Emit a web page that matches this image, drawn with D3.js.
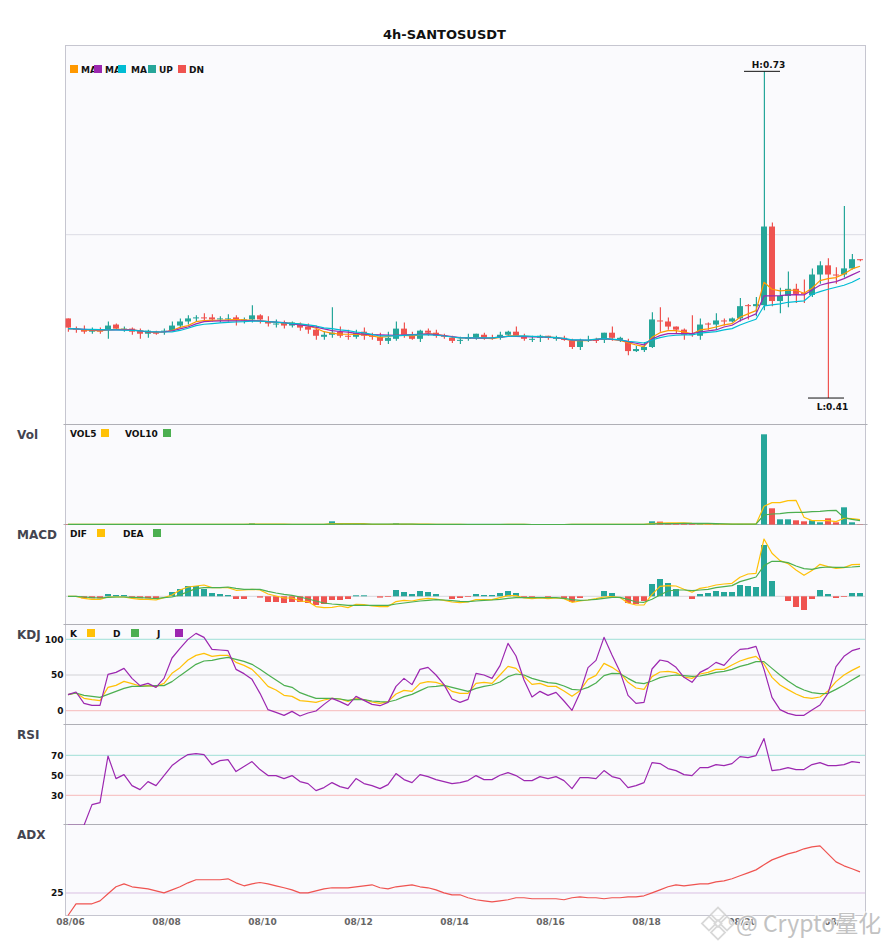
<!DOCTYPE html>
<html>
<head>
<meta charset="utf-8">
<script src="https://cdn.jsdelivr.net/npm/d3@7"></script>
<style>
html,body{margin:0;padding:0;background:#fff;}
svg{display:block;}
text{font-family:"DejaVu Sans",sans-serif;}
</style>
</head>
<body>
<svg id="c" width="885" height="950"></svg>
<script>
const title = "4h-SANTOSUSDT";
const dateTicks = ["08/06","08/08","08/10","08/12","08/14","08/16","08/18","08/20","08/22"];
const upColor = "#26a69a", downColor = "#ef5350";

const opens = [.488,.478,.477,.475,.476,.477,.482,.477,.478,.476,.473,.475,.475,.476,.481,.485,.488,.489,.489,.487,.487,.489,.486,.487,.491,.485,.482,.484,.481,.482,.480,.477,.470,.472,.475,.471,.470,.475,.471,.470,.466,.468,.478,.471,.468,.476,.474,.471,.469,.466,.468,.469,.472,.469,.469,.472,.475,.470,.468,.469,.471,.469,.469,.466,.460,.467,.467,.467,.474,.467,.465,.456,.457,.460,.486,.485,.480,.477,.473,.471,.483,.482,.486,.485,.488,.501,.500,.501,.578,.505,.510,.517,.513,.511,.531,.540,.531,.531,.537,.546];
const closes = [.479,.477,.475,.477,.475,.481,.478,.478,.475,.473,.476,.473,.476,.481,.485,.488,.489,.488,.487,.488,.488,.487,.487,.491,.487,.483,.483,.481,.484,.479,.477,.471,.472,.474,.471,.470,.474,.471,.470,.466,.469,.478,.472,.468,.476,.474,.471,.470,.466,.467,.469,.473,.469,.468,.472,.475,.471,.468,.468,.471,.469,.469,.467,.460,.466,.467,.466,.474,.469,.469,.456,.458,.460,.487,.485,.480,.477,.472,.472,.482,.482,.486,.485,.488,.500,.500,.502,.578,.505,.510,.517,.512,.512,.531,.540,.531,.530,.537,.546,.545];
const highs = [.488,.480,.481,.479,.479,.485,.483,.480,.479,.478,.477,.476,.478,.485,.488,.491,.491,.493,.492,.490,.492,.491,.489,.501,.492,.490,.487,.486,.485,.484,.483,.481,.475,.499,.480,.477,.477,.479,.474,.474,.475,.485,.484,.475,.477,.478,.477,.473,.471,.470,.473,.473,.474,.472,.475,.476,.480,.473,.471,.472,.471,.471,.471,.468,.468,.471,.469,.474,.480,.470,.468,.461,.465,.494,.499,.489,.480,.478,.491,.488,.484,.493,.488,.489,.508,.502,.509,.730,.582,.518,.534,.522,.526,.537,.544,.547,.538,.598,.551,.546];
const lows = [.475,.474,.473,.473,.473,.468,.477,.475,.472,.468,.469,.472,.472,.476,.479,.482,.485,.486,.485,.484,.485,.481,.483,.484,.483,.480,.479,.478,.479,.476,.473,.467,.467,.469,.469,.467,.468,.467,.467,.462,.463,.466,.469,.467,.465,.471,.469,.468,.464,.463,.466,.467,.467,.467,.467,.471,.470,.466,.465,.465,.467,.466,.466,.458,.457,.465,.464,.464,.466,.465,.452,.455,.455,.459,.475,.477,.473,.467,.470,.467,.477,.477,.481,.484,.485,.487,.490,.496,.500,.493,.499,.503,.503,.509,.522,.410,.522,.528,.536,.544];

const ma5 = [.4780,.4777,.4767,.4762,.4757,.4767,.4772,.4772,.4767,.4757,.4747,.4743,.4747,.4762,.4792,.4809,.4848,.4858,.4860,.4862,.4865,.4868,.4865,.4862,.4855,.4848,.4841,.4836,.4831,.4826,.4806,.4784,.4750,.4735,.4725,.4725,.4723,.4721,.4708,.4695,.4703,.4715,.4713,.4708,.4718,.4731,.4723,.4711,.4698,.4689,.4689,.4689,.4686,.4682,.4694,.4708,.4708,.4705,.4703,.4701,.4698,.4692,.4679,.4662,.4662,.4662,.4674,.4682,.4674,.4664,.4643,.4620,.4603,.4695,.4740,.4760,.4760,.4747,.4728,.4767,.4777,.4796,.4816,.4829,.4891,.4924,.4956,.5234,.5166,.5149,.5156,.5156,.5127,.5176,.5250,.5270,.5280,.5316,.5365,.5391];
const ma10 = [.4780,.4777,.4772,.4767,.4767,.4767,.4767,.4767,.4767,.4757,.4747,.4747,.4749,.4757,.4777,.4796,.4827,.4848,.4852,.4855,.4855,.4855,.4857,.4858,.4855,.4848,.4843,.4838,.4826,.4816,.4806,.4794,.4777,.4760,.4752,.4745,.4734,.4725,.4721,.4718,.4716,.4715,.4718,.4721,.4725,.4728,.4721,.4711,.4701,.4692,.4689,.4686,.4687,.4689,.4697,.4705,.4703,.4701,.4700,.4698,.4695,.4692,.4680,.4667,.4667,.4666,.4672,.4682,.4674,.4669,.4652,.4637,.4620,.4679,.4711,.4731,.4731,.4731,.4731,.4747,.4757,.4767,.4796,.4813,.4858,.4891,.4924,.5100,.5100,.5103,.5110,.5113,.5110,.5159,.5205,.5225,.5240,.5270,.5306,.5342];
const ma20 = [.4780,.4777,.4774,.4772,.4770,.4767,.4767,.4764,.4762,.4757,.4752,.4749,.4747,.4749,.4762,.4784,.4809,.4823,.4829,.4836,.4841,.4845,.4848,.4854,.4854,.4848,.4844,.4836,.4831,.4826,.4816,.4806,.4787,.4780,.4767,.4760,.4747,.4738,.4723,.4708,.4708,.4708,.4713,.4718,.4718,.4718,.4715,.4708,.4698,.4689,.4689,.4689,.4689,.4689,.4696,.4705,.4706,.4708,.4705,.4701,.4697,.4692,.4684,.4670,.4669,.4667,.4678,.4682,.4677,.4669,.4656,.4649,.4639,.4669,.4692,.4708,.4715,.4718,.4718,.4735,.4744,.4750,.4767,.4780,.4816,.4845,.4872,.5002,.5012,.5022,.5038,.5044,.5051,.5117,.5142,.5166,.5185,.5205,.5234,.5274];

const volumes = [.5,.2,.2,.2,.2,.3,.2,.1,.2,.3,.2,.1,.2,.3,.3,.3,.2,.2,.2,.1,.2,.2,.1,1.3,.3,.2,.1,.2,.2,.2,.2,.5,.3,3.3,.4,.2,.2,.3,.2,.3,.3,1.3,.6,.2,.3,.2,.2,.1,.2,.1,.1,.2,.2,.1,.2,.2,.2,.1,.1,.1,.1,.1,.1,.3,.4,.1,.1,.3,.2,.1,.3,.1,.2,3.3,3,1,.8,.8,.8,.6,.4,.5,.2,.3,.6,.3,.3,90.3,16.3,5.3,5.3,4.3,3.3,4.3,2.3,6.3,2.3,17.3,2.3,.3];
const vol5 = [.2,.2,.2,.2,.2,.2,.2,.2,.2,.2,.2,.2,.2,.2,.2,.2,.2,.2,.2,.2,.2,.2,.2,.4,.4,.4,.4,.4,.2,.2,.2,.3,.3,.9,.9,.9,.9,.9,.3,.2,.2,.5,.5,.5,.5,.5,.3,.2,.2,.2,.1,.1,.1,.1,.1,.2,.2,.2,.1,.1,.1,.1,.1,.2,.2,.2,.2,.3,.3,.2,.2,.2,.2,1,1.5,1.7,1.8,1.8,1.2,.8,.7,.6,.5,.4,.4,.4,.4,18.3,22,22,24,24.3,7.3,4,4,4,3,6.3,6,5];
const vol10 = [.2,.2,.2,.2,.2,.2,.2,.2,.2,.2,.2,.2,.2,.2,.2,.2,.2,.2,.2,.2,.2,.2,.2,.3,.3,.3,.3,.3,.3,.3,.3,.3,.3,.5,.5,.5,.5,.5,.5,.5,.5,.5,.5,.5,.3,.3,.3,.3,.3,.2,.2,.2,.2,.2,.2,.2,.2,.2,.1,.1,.1,.1,.1,.2,.2,.2,.2,.2,.2,.2,.2,.2,.2,.6,.9,1,1.1,1.2,1.2,1.2,1.2,1,.7,.5,.5,.4,.4,9.6,10.6,11,12,12.3,12.3,13,13.3,14,14.3,7,5.3,4];

const hist = [0,0,-2,-2,-2,2.3,1.3,1.3,-1.3,-2,-2,-2,0,4.3,7.3,10.3,10.3,7.3,3.3,2.3,1.3,-2.7,-2.7,0,-1.3,-5.7,-5.7,-6.7,-5.7,-5.7,-6.7,-8.7,-7.7,-3.7,-3.7,-2.7,1,1,0,-1.3,-.7,6.3,4.3,2.3,5.3,4.3,2.3,0,-2.7,-1.7,-.7,2.3,1.3,1.3,3.3,5.3,3.3,-.7,-1.7,0,-1.7,0,-1.7,-5.7,-1.7,0,0,5.3,3.3,0,-6.7,-7.7,-4.7,12.3,17.3,13.3,7.3,0,-2.7,2.3,3.3,5.3,4.3,4.3,11.3,10.3,9.3,51.3,15.3,0,-4.7,-10.7,-13.7,-2.7,6.3,2.3,-1.7,-.7,3.3,3.3];
const dif = [0,0,-2,-3,-3,-.7,-.7,-.7,-2,-3,-3,-3.7,-1.3,1.3,6.3,9.3,10.3,11.3,8.7,8.7,8.7,6,6.3,7,6.3,2.3,.3,-1.7,-1.7,-4.7,-5.3,-10.3,-11.3,-11,-9.7,-11.3,-8,-8.3,-9.7,-10.3,-10.3,-5.3,-4,-4.7,-3,-2,-2.7,-4,-5.7,-6.3,-5.7,-3.3,-3.3,-3.3,-1.3,.7,.7,-1.7,-2.3,-1.7,-2.3,-1.7,-2.3,-6,-4.7,-3.7,-2.3,-.7,-.3,-1.3,-6.7,-8.7,-8.7,2,10,10.7,10.3,7,4,8,9.3,11.3,12.3,13,19,22.3,23,57.3,43,35.7,32.7,26.3,21,25.7,32,29.7,28,28.7,31.7,32];
const dea = [0,0,-.7,-1.3,-1.7,-1,-.7,-.7,-1,-1.3,-1.7,-2.3,-1.3,-.7,1.3,4.7,7.7,8.7,8.7,8.7,9.3,8,7,7,7,5,3.3,2,1,-.7,-2.7,-4.7,-6.7,-7.7,-8.3,-9,-9,-9,-9,-9,-9,-7.7,-6.7,-5.7,-4.7,-4,-3.3,-3.7,-4.3,-5,-5.3,-4.7,-4,-3.7,-3,-2,-1.3,-1.3,-1.3,-1.3,-1.3,-1.3,-2,-3.3,-4,-3.7,-3,-2,-1,-1,-3,-5.7,-6,-3,1.3,5.3,6.3,6.3,5.7,6.3,7,8.7,9.7,10.7,14.7,17,19.3,30.7,35,35,33.7,30.3,27.7,27,28.7,29.3,29,29,29.3,30];

const kVals = [22.5,24.8,17.3,15.5,14.1,32.7,35.5,41.1,37.9,34.6,35.1,33.7,38.3,52.3,60.3,71,77.5,80.3,76.1,77.5,77.5,67.7,63.5,57.9,46.7,34.1,29,21.5,20.1,14.1,13.1,11.7,15,17.3,16.4,13.1,17.8,15.5,12.2,10.3,12.7,23.4,28.5,27.1,38.3,40.7,39.7,36,27.1,24.3,24.3,38.3,39.7,38.3,50,62.1,59.3,47.7,36.9,38.3,34.1,34.1,27.6,20.1,28.1,43.9,49.5,66.3,60.7,53.3,39.7,31.8,29.9,47.7,54.2,55.1,53.3,47.2,45.3,51.4,53.7,57.9,57.9,64,69.6,73.3,76.1,65.4,46.7,36,29.5,23.4,18.7,17.3,19.2,27.6,40.7,50,56.5,62.1];
const dVals = [22.5,24.8,21.5,20.1,18.7,22.9,27.1,31.3,34.1,34.1,34.6,35.1,35.1,40.7,49.1,57,64.9,69.6,70.5,72.9,74.7,71.9,69.1,64.9,57.9,50.5,43,35.5,32.7,25.3,21.1,17.3,17.3,17.3,16.4,14.5,15.9,15.5,13.6,12.7,12.2,15,19.7,22.9,28.1,33.2,34.1,35.5,32.7,29.9,27.1,31.3,34.1,36,40.2,47.7,51.4,50,45.3,42.1,39.3,38.3,34.6,29.9,29,32.7,38.8,49.1,52.3,51.9,45.3,39.3,37.9,41.6,46.3,48.6,50,49.1,48.1,48.6,50.9,53.7,55.1,57.9,62.1,64.9,68.7,68.7,59.3,50,41.6,34.1,29,25.3,23.9,24.3,29.9,36,43,49.5];
const jVals = [22.5,26.2,10.3,7.5,7.5,50.9,53.7,59.3,45.3,35.1,38.3,32.7,45.3,73.8,87.3,99.9,108.3,102.7,85.9,85,84.1,57.9,51.9,43.9,24.3,1.5,-2.3,-6.5,-.9,-7.4,-3.2,-.4,8.9,17.3,12.7,7.5,20.1,14.5,8.9,7,11.7,34.1,45.3,36.5,57.9,60.7,50,36.5,16.4,11.7,15.9,52.3,50,45.3,63.1,94.3,76.6,43,19.2,27.1,21.5,25.7,13.6,.5,25.3,60.3,70.5,102.7,78,54.7,21.5,10.3,11.7,58.4,71,68.7,60.7,46.7,39.7,53.7,59.3,67.7,63.5,76.1,85.9,86.9,90.1,57.9,18.7,1.5,-3.7,-6.5,-6.5,1,8,24.3,61.7,76.1,84.1,87.3];

const rsi = [0,0,0,20.7,22.7,69.3,46.7,50.7,39.7,35.7,43.7,39.7,49.7,59.7,65.7,70.7,71.7,70.7,60.7,64.7,65.7,53.7,58.7,63.7,55.7,49.7,49.7,46.7,49.7,43.7,41.7,34.7,37.7,42.7,38.7,36.7,46.7,41.7,39.7,36.7,40.7,51.7,45.7,42.7,50.7,48.7,45.7,43.7,41.7,42.7,44.7,49.7,45.7,45.7,50,52.7,49.7,44.7,44.7,48.7,46.7,48.7,44.7,36.7,47.7,47.7,46.7,54.7,48.7,46.7,37.7,39.7,42.7,62.7,61.7,56.7,54.7,50.7,49.7,57.7,57.7,60.7,59.7,61.7,68.7,67.7,69.7,86.7,54.7,55.7,57.7,55.7,55.7,60.7,62.7,59.7,59.7,60.7,63.7,62.7];
const adx = [0,13,13,13,16.3,24.1,31.9,35.2,31.9,30.8,29.6,27.4,25.2,28.5,31.9,36.3,39.7,39.7,39.7,39.7,40.8,36.3,33,35.2,36.7,35.2,33,30.8,28.5,25.2,25.2,27.4,29.6,30.8,30.8,30.8,31.9,33,34.1,30.8,29.6,31.9,33,34.1,31.9,30.8,28.5,25.2,23,23,19.7,17.5,16.3,15.2,16.3,17.5,19.7,19.7,18.6,18.6,18.6,18.6,17.5,19.7,20.8,19.7,19.7,18.6,19.7,19.7,20.8,20.8,21.9,25.2,28.5,31.9,34.1,33,34.1,35.2,35.2,37.4,38.5,40.8,44.1,47.4,50.7,56.3,61.8,65.2,68.5,70.7,74.1,76.3,77.4,68.5,59.6,55.2,51.9,48.5];

const priceGrid = [0.57];
const kdjTicks = [0,50,100], rsiTicks = [30,50,70], adxTicks = [25];
const highLabel = "H:0.73", lowLabel = "L:0.41";

// ---------- layout ----------
const svg = d3.select("#c");
const left = 65.5, right = 865.5;
const x = d3.scalePoint().domain(d3.range(opens.length)).range([68, 860]);
const barW = 6;
const panels = {
  price: [45.5, 424.5], vol: [424.5, 524.5], macd: [524.5, 624.5],
  kdj: [624.5, 724.5], rsi: [724.5, 824.5], adx: [824.5, 915.5]
};
const yPrice = d3.scaleLinear().domain([0.3836, 0.7558]).range([425, 45]);
const yVol = d3.scaleLinear().domain([0, 100]).range([524.6, 424.6]);
const yMacd = d3.scaleLinear().domain([-29, 71]).range([625.3, 525.3]);
const yKdj = d3.scaleLinear().domain([-20, 120]).range([725, 625]);
const yRsi = d3.scaleLinear().domain([0, 100]).range([825.3, 725.3]);
const yAdx = d3.scaleLinear().domain([0, 100]).range([915.5, 825.5]);

const defs = svg.append("defs");
Object.entries(panels).forEach(([k, [a, b]]) => {
  svg.append("rect").attr("x", left).attr("y", a).attr("width", right - left).attr("height", b - a)
    .attr("fill", "#fafafd").attr("stroke", "#c6c6d0").attr("stroke-width", 1);
  defs.append("clipPath").attr("id", "clip-" + k).append("rect")
    .attr("x", left).attr("y", a - .5).attr("width", right - left).attr("height", b - a + 1);
});
// dividers between panels, darker than the outer frame, with short end ticks
Object.values(panels).slice(1).forEach(([a]) => {
  svg.append("line").attr("x1", left - 2).attr("x2", right + 2).attr("y1", a).attr("y2", a)
    .attr("stroke", "#afafb6").attr("stroke-width", 1);
});

const lineGen = (y, vals, panel, color, w = 1.2) =>
  svg.append("path")
    .datum(vals)
    .attr("clip-path", `url(#clip-${panel})`)
    .attr("fill", "none").attr("stroke", color).attr("stroke-width", w).attr("stroke-linejoin", "round")
    .attr("d", d3.line().x((d, i) => x(i)).y(d => y(d)));

const hline = (y, v, color) =>
  svg.append("line").attr("x1", left + .5).attr("x2", right - .5).attr("y1", y(v)).attr("y2", y(v))
    .attr("stroke", color).attr("stroke-width", 1);

const idx = d3.range(opens.length);
const colorOf = i => closes[i] >= opens[i] ? upColor : downColor;

// ---------- price panel ----------
priceGrid.forEach(v => hline(yPrice, v, "#dcdce4"));
const gPrice = svg.append("g").attr("clip-path", "url(#clip-price)");
gPrice.selectAll("line.w").data(idx).join("line")
  .attr("x1", i => x(i) + .4).attr("x2", i => x(i) + .4)
  .attr("y1", i => yPrice(highs[i])).attr("y2", i => yPrice(lows[i]))
  .attr("stroke", colorOf).attr("stroke-width", 1.2);
gPrice.selectAll("rect").data(idx).join("rect")
  .attr("x", i => x(i) - barW / 2).attr("width", barW)
  .attr("y", i => yPrice(Math.max(opens[i], closes[i])))
  .attr("height", i => Math.max(1, Math.abs(yPrice(opens[i]) - yPrice(closes[i]))))
  .attr("fill", colorOf);
lineGen(yPrice, ma5, "price", "#ff9800");
lineGen(yPrice, ma10, "price", "#9c27b0");
lineGen(yPrice, ma20, "price", "#00bcd4");

// high / low markers
const hiI = highs.indexOf(d3.max(highs)), loI = lows.indexOf(d3.min(lows));
[[hiI, highs[hiI], highLabel, -3], [loI, lows[loI], lowLabel, 12]].forEach(([i, v, lab, dy]) => {
  svg.append("line").attr("x1", x(i) - 20).attr("x2", x(i) + 16).attr("y1", yPrice(v)).attr("y2", yPrice(v))
    .attr("stroke", "#111").attr("stroke-width", 1);
  svg.append("text").attr("x", x(i) + 4.5).attr("y", yPrice(v) + dy).attr("text-anchor", "middle")
    .attr("font-size", 9).attr("font-weight", "bold").attr("fill", "#111").text(lab);
});

// ---------- volume ----------
const barGroup = (y, vals, panel, col) =>
  svg.append("g").attr("clip-path", `url(#clip-${panel})`).selectAll("rect").data(idx).join("rect")
    .attr("x", i => x(i) - barW / 2).attr("width", barW)
    .attr("y", i => Math.min(y(0), y(vals[i])))
    .attr("height", i => Math.abs(y(vals[i]) - y(0)))
    .attr("fill", col);
barGroup(yVol, volumes, "vol", colorOf);
lineGen(yVol, vol5, "vol", "#ffc107");
lineGen(yVol, vol10, "vol", "#4caf50");

// ---------- MACD ----------
hline(yMacd, 0, "#d8d8dc");
barGroup(yMacd, hist, "macd", i => hist[i] >= 0 ? upColor : downColor);
lineGen(yMacd, dif, "macd", "#ffc107");
lineGen(yMacd, dea, "macd", "#4caf50");

// ---------- KDJ ----------
hline(yKdj, 100, "#9fdfd6"); hline(yKdj, 50, "#d2d2d6"); hline(yKdj, 0, "#f7b9b9");
lineGen(yKdj, kVals, "kdj", "#ffc107");
lineGen(yKdj, dVals, "kdj", "#4caf50");
lineGen(yKdj, jVals, "kdj", "#9c27b0");

// ---------- RSI ----------
hline(yRsi, 70, "#9fdfd6"); hline(yRsi, 50, "#d2d2d6"); hline(yRsi, 30, "#f7b9b9");
lineGen(yRsi, rsi, "rsi", "#9c27b0");

// ---------- ADX ----------
hline(yAdx, 25, "#d9bfe2");
lineGen(yAdx, adx, "adx", "#ef5350");

// ---------- axes ----------
const yAxis = (y, ticks) => {
  const g = svg.append("g").attr("transform", `translate(${left},0)`)
    .call(d3.axisLeft(y).tickValues(ticks).tickSize(0).tickPadding(2).tickFormat(d3.format("d")));
  g.select(".domain").remove();
  g.selectAll("text").attr("font-family", "DejaVu Sans").attr("font-size", 9)
    .attr("font-weight", "bold").attr("fill", "#111");
};
yAxis(yKdj, kdjTicks); yAxis(yRsi, rsiTicks); yAxis(yAdx, adxTicks);

const xAxis = svg.append("g").attr("transform", "translate(2,915)")
  .call(d3.axisBottom(x).tickValues(d3.range(0, opens.length, 12)).tickSize(0).tickPadding(4)
    .tickFormat((d, i) => dateTicks[i]));
xAxis.select(".domain").remove();
xAxis.selectAll("text").attr("font-family", "DejaVu Sans").attr("font-size", 9)
  .attr("font-weight", "bold").attr("fill", "#666");

// ---------- titles and legends ----------
svg.append("text").attr("x", 444.5).attr("y", 39).attr("text-anchor", "middle")
  .attr("font-size", 13).attr("font-weight", "bold").attr("fill", "#111").text(title);

[["Vol", 439], ["MACD", 539], ["KDJ", 639], ["RSI", 739], ["ADX", 839]].forEach(([t, y]) =>
  svg.append("text").attr("x", 17).attr("y", y).attr("font-size", 12).attr("font-weight", "bold")
    .attr("fill", "#444450").text(t));

const legendItems = [
  // label, label x, swatch x, colour, centre y
  ["MA", 81, 70, "#ff9800", 69], ["MA", 105, 94, "#9c27b0", 69], ["MA", 131, 118, "#00bcd4", 69],
  ["UP", 159, 148, upColor, 69], ["DN", 189, 178, downColor, 69],
  ["VOL5", 70, 101, "#ffc107", 433], ["VOL10", 125, 163, "#4caf50", 433],
  ["DIF", 70, 97, "#ffc107", 533], ["DEA", 123, 153, "#4caf50", 533],
  ["K", 70, 87, "#ffc107", 633], ["D", 113, 131, "#4caf50", 633], ["J", 157, 175, "#9c27b0", 633]
];
legendItems.forEach(([t, tx, , , cy]) =>
  svg.append("text").attr("x", tx).attr("y", cy + 3.5).attr("font-size", 9).attr("font-weight", "bold")
    .attr("fill", "#111").text(t));
legendItems.forEach(([, , sx, c, cy]) =>
  svg.append("rect").attr("x", sx).attr("y", cy - 4).attr("width", 8).attr("height", 8).attr("fill", c));

// ---------- watermark ----------
const wm = svg.append("g");
[[718, 914.5, 5], [709, 923.5, 5], [727, 923.5, 5], [718, 932.5, 5], [718, 923.5, 2.5]].forEach(([cx, cy, r]) =>
  wm.append("rect").attr("x", cx - r).attr("y", cy - r).attr("width", 2 * r).attr("height", 2 * r)
    .attr("transform", `rotate(45 ${cx} ${cy})`)
    .attr("fill", "#fff").attr("fill-opacity", .7).attr("stroke", "#d8d8d8").attr("stroke-width", 1.8));
wm.append("text").attr("x", 736).attr("y", 932)
  .style("font-family", "'Noto Sans CJK SC'")
  .attr("font-size", 23).attr("fill", "#c2c2c2").attr("stroke", "#fff").attr("stroke-opacity", .7)
  .attr("stroke-width", 2).attr("paint-order", "stroke").text("@ Crypto量化");
</script>
</body>
</html>
